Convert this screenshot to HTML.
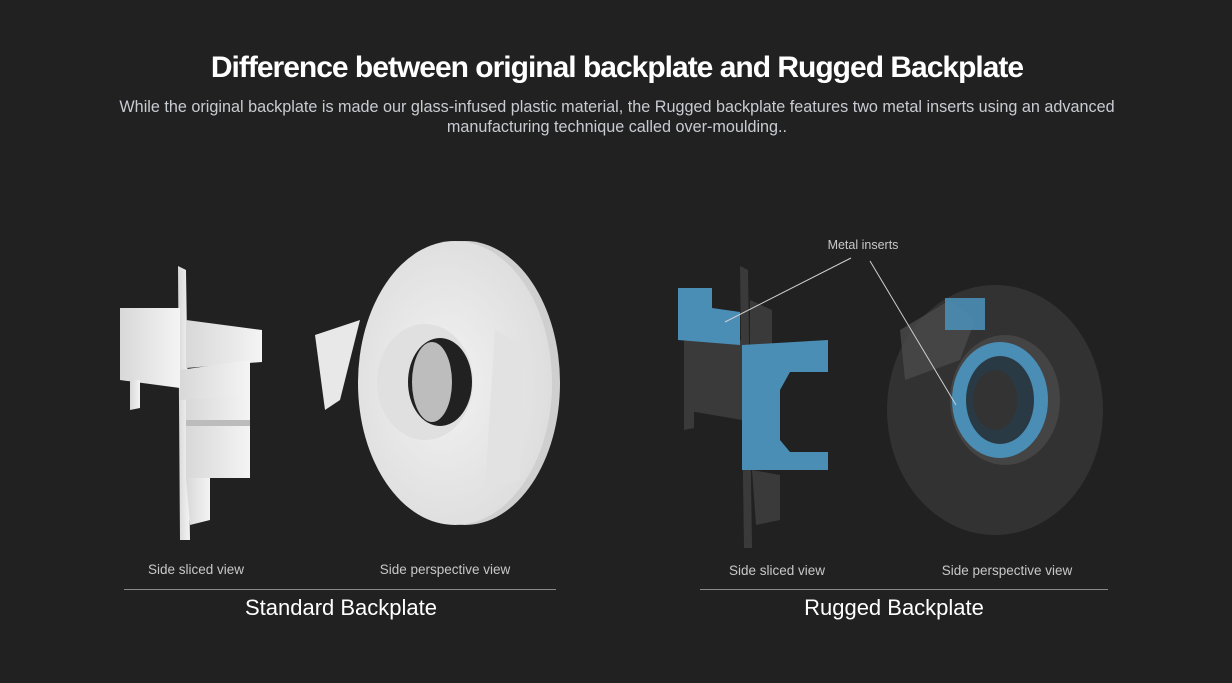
<!DOCTYPE html>
<html><head><meta charset="utf-8"><style>
html,body{margin:0;padding:0;background:#212121;width:1232px;height:683px;overflow:hidden;font-family:"Liberation Sans",sans-serif}
svg{position:absolute;left:0;top:0}
</style></head><body>
<svg width="1232" height="683" viewBox="0 0 1232 683" xmlns="http://www.w3.org/2000/svg">
<defs>
<linearGradient id="wg" x1="0" x2="1"><stop offset="0" stop-color="#d8d8d8"/><stop offset="1" stop-color="#f4f4f4"/></linearGradient>
<radialGradient id="dg" cx="0.45" cy="0.5" r="0.6"><stop offset="0" stop-color="#f2f2f2"/><stop offset="1" stop-color="#dcdcdc"/></radialGradient>
</defs>
<rect width="1232" height="683" fill="#212121"/>
<text x="617" y="77" text-anchor="middle" font-size="30" font-weight="bold" fill="#fff" letter-spacing="-1">Difference between original backplate and Rugged Backplate</text>
<text x="617" y="112" text-anchor="middle" font-size="16.2" fill="#c8ccd2">While the original backplate is made our glass-infused plastic material, the Rugged backplate features two metal inserts using an advanced</text>
<text x="617" y="132" text-anchor="middle" font-size="16.2" fill="#c8ccd2">manufacturing technique called over-moulding..</text>

<g fill="url(#wg)">
<polygon points="178,266 186,270 190,540 180,540"/>
<polygon points="120,308 180,308 180,388 120,380"/>
<polygon points="186,320 262,330 262,362 186,368"/>
<polygon points="186,392 250,392 250,478 186,478"/>
<polygon points="180,370 250,360 250,395 180,400"/>
<polygon points="130,380 140,380 140,408 130,410"/>
<polygon points="186,478 210,478 210,520 190,525"/>
</g>
<rect x="186" y="420" width="64" height="6" fill="#bcbcbc"/>
<ellipse cx="465" cy="383" rx="95" ry="142" fill="#cfcfcf"/>
<ellipse cx="455" cy="383" rx="97" ry="142" fill="url(#dg)"/>
<polygon points="315,335 360,320 340,400 325,410" fill="#e8e8e8"/>
<polygon points="495,330 525,345 520,480 485,490" fill="#e2e2e2"/>
<ellipse cx="425" cy="382" rx="48" ry="58" fill="#e0e0e0"/>
<ellipse cx="440" cy="382" rx="32" ry="44" fill="#212121"/>
<ellipse cx="432" cy="382" rx="20" ry="40" fill="#bdbdbd"/>

<text x="196" y="574" text-anchor="middle" font-size="13.5" fill="#c8c8c8">Side sliced view</text>
<text x="445" y="574" text-anchor="middle" font-size="13.5" fill="#c8c8c8">Side perspective view</text>
<line x1="124" y1="589.5" x2="556" y2="589.5" stroke="#8a8a8a" stroke-width="1"/>
<text x="341" y="615" text-anchor="middle" font-size="22" fill="#fff">Standard Backplate</text>

<g fill="#3a3a3a">
<polygon points="740,266 748,270 752,548 744,548"/>
<polygon points="684,340 742,340 742,420 684,410"/>
<polygon points="750,300 772,310 772,350 750,345"/>
<polygon points="752,470 780,475 780,520 756,525"/>
<polygon points="684,410 694,410 694,428 684,430"/>
</g>
<g fill="#4a8db5">
<polygon points="678,288 712,288 712,308 740,312 740,345 678,340"/>
<polygon points="742,345 828,340 828,372 790,372 780,390 780,440 790,452 828,452 828,470 742,470"/>
</g>
<ellipse cx="995" cy="410" rx="108" ry="125" fill="#343434" opacity="0.9"/>
<polygon points="900,330 950,300 975,320 960,360 905,380" fill="#4a4a4a" opacity="0.8"/>
<ellipse cx="1005" cy="400" rx="55" ry="65" fill="#444"/>
<ellipse cx="1000" cy="400" rx="48" ry="58" fill="#4a8db5"/>
<ellipse cx="1000" cy="400" rx="34" ry="44" fill="#2a3a44"/>
<ellipse cx="995" cy="400" rx="22" ry="30" fill="#333"/>
<polygon points="945,298 985,298 985,330 945,330" fill="#4a8db5" opacity="0.9"/>

<text x="863" y="249" text-anchor="middle" font-size="12.5" fill="#c8c8c8">Metal inserts</text>
<line x1="851" y1="258" x2="725" y2="322" stroke="#cfcfcf" stroke-width="1"/>
<line x1="870" y1="261" x2="956" y2="405" stroke="#cfcfcf" stroke-width="1"/>

<text x="777" y="575" text-anchor="middle" font-size="13.5" fill="#c8c8c8">Side sliced view</text>
<text x="1007" y="575" text-anchor="middle" font-size="13.5" fill="#c8c8c8">Side perspective view</text>
<line x1="700" y1="589.5" x2="1108" y2="589.5" stroke="#8a8a8a" stroke-width="1"/>
<text x="894" y="615" text-anchor="middle" font-size="22" fill="#fff">Rugged Backplate</text>
</svg>
</body></html>
